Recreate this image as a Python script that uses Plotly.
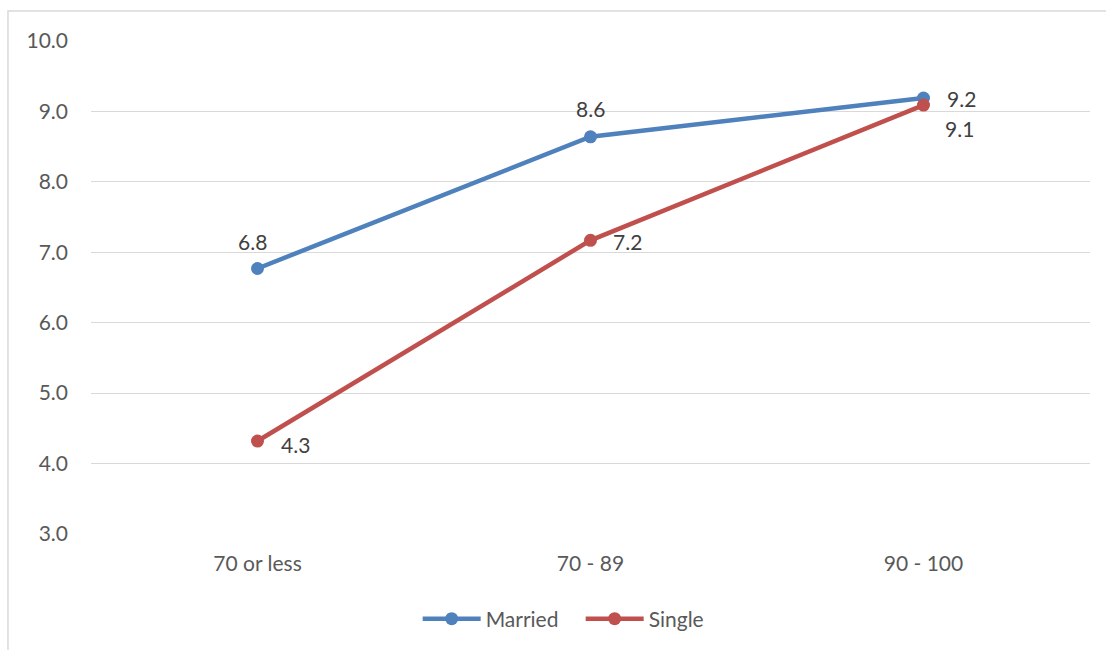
import plotly.graph_objects as go

categories = ["70 or less", "70 - 89", "90 - 100"]
married = [6.77, 8.64, 9.19]
single = [4.32, 7.17, 9.09]
y_ticks = [3, 4, 5, 6, 7, 8, 9, 10]

BLUE = "#4F81BD"
RED = "#C0504D"
FONT = "Lato"
FS = 21

fig = go.Figure()
fig.add_trace(go.Scatter(
    x=categories, y=married, name="Married", mode="lines+markers",
    line=dict(color=BLUE, width=4.5), marker=dict(size=13, color=BLUE),
))
fig.add_trace(go.Scatter(
    x=categories, y=single, name="Single", mode="lines+markers",
    line=dict(color=RED, width=4.5), marker=dict(size=13, color=RED),
))

# data labels: Married above (last one to the right), Single to the right (last one below-right)
married_offsets = [(-5, -27), (0, -28), (38, 0)]
single_offsets = [(38, 3), (37, 1), (36, 23)]
for cat, v, (ax, ay) in zip(categories, married, married_offsets):
    fig.add_annotation(x=cat, y=v, text=f"{v:.1f}", showarrow=True, arrowcolor="rgba(0,0,0,0)",
                       ax=ax, ay=ay, font=dict(family=FONT, size=FS, color="#404040"))
for cat, v, (ax, ay) in zip(categories, single, single_offsets):
    fig.add_annotation(x=cat, y=v, text=f"{v:.1f}", showarrow=True, arrowcolor="rgba(0,0,0,0)",
                       ax=ax, ay=ay, font=dict(family=FONT, size=FS, color="#404040"))

# chart area outline
fig.add_shape(type="rect", xref="paper", yref="paper",
              x0=-0.0831, x1=1.2, y0=-0.5, y1=1.0607,
              line=dict(color="#D9D9D9", width=1.5), layer="below")

fig.update_layout(
    width=1106, height=650,
    margin=dict(l=91, r=16, t=41, b=115),
    paper_bgcolor="white", plot_bgcolor="white",
    font=dict(family=FONT, size=FS, color="#595959"),
    showlegend=True,
    legend=dict(orientation="h", x=0.327, xanchor="left", y=-0.17, yanchor="middle",
                font=dict(family=FONT, size=FS, color="#595959"), itemwidth=58,
                entrywidth=90, entrywidthmode="pixels", tracegroupgap=0),
    xaxis=dict(type="category", range=[-0.5, 2.5], showgrid=False, showline=False,
               zeroline=False, ticks="", ticklabelstandoff=15,
               tickfont=dict(family=FONT, size=FS, color="#595959")),
    yaxis=dict(range=[3, 10], tickvals=y_ticks, tickformat=".1f", showgrid=True,
               gridcolor="#D9D9D9", gridwidth=1.3, zeroline=False, showline=False,
               ticks="", ticklabelstandoff=22,
               tickfont=dict(family=FONT, size=FS, color="#595959")),
)

fig.write_html("out.html")
